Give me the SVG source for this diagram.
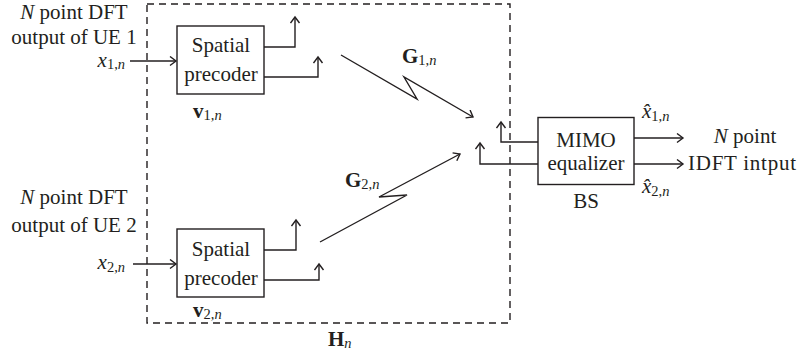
<svg xmlns="http://www.w3.org/2000/svg" width="801" height="358" viewBox="0 0 801 358">
<style>
text{font-family:"Liberation Serif","Times New Roman",serif;font-size:21px;fill:#231f20}
.it{font-style:italic}
.b{font-weight:bold}
.sub{font-size:14.5px}
.c{text-anchor:middle}
.box{fill:#fff;stroke:#231f20;stroke-width:1.4}
.ar{fill:none;stroke:#231f20;stroke-width:1.4;marker-end:url(#ah)}
.dash{fill:none;stroke:#231f20;stroke-width:1.4;stroke-dasharray:7 5}
</style>
<defs>
<marker id="ah" markerUnits="userSpaceOnUse" markerWidth="12" markerHeight="12" refX="7" refY="5" orient="auto" viewBox="0 0 12 12">
<path d="M1,0.5 L7,5 L1,9.5" fill="none" stroke="#231f20" stroke-width="1.4"/>
</marker>
</defs>
<rect class="dash" x="147" y="4" width="363" height="319"/>
<g id="connectors">
<path class="ar" d="M130,61 H176"/>
<path class="ar" d="M133,264 H176"/>
<path class="ar" d="M264,47 H295 V17"/>
<path class="ar" d="M264,77 H318 V57"/>
<path class="ar" d="M264,250 H296 V220"/>
<path class="ar" d="M264,280 H319 V264"/>
<path class="ar" d="M341,55 L417,99 L404,77 L473,117"/>
<path class="ar" d="M320,242 L407,195 L379,197 L460,154"/>
<path class="ar" d="M538,142 H501 V122"/>
<path class="ar" d="M538,164 H480 V143"/>
<path class="ar" d="M634,138 H683"/>
<path class="ar" d="M634,164 H683"/>
</g>
<g id="ue1">
<text class="c" x="74" y="19"><tspan class="it">N</tspan> point DFT</text>
<text class="c" x="74" y="44">output of UE 1</text>
<text x="125" y="67" text-anchor="end"><tspan class="it">x</tspan><tspan class="sub" dy="2">1,</tspan><tspan class="sub it">n</tspan></text>
</g>
<g id="precoder1">
<rect class="box" x="177" y="26" width="87" height="68"/>
<text class="c" x="221" y="52">Spatial</text>
<text class="c" x="221" y="81">precoder</text>
<text x="193" y="118"><tspan class="b">v</tspan><tspan class="sub" dy="2">1,</tspan><tspan class="sub it">n</tspan></text>
</g>
<g id="ue2">
<text class="c" x="74" y="204"><tspan class="it">N</tspan> point DFT</text>
<text class="c" x="74" y="232">output of UE 2</text>
<text x="125" y="269" text-anchor="end"><tspan class="it">x</tspan><tspan class="sub" dy="3">2,</tspan><tspan class="sub it">n</tspan></text>
</g>
<g id="precoder2">
<rect class="box" x="177" y="229" width="87" height="68"/>
<text class="c" x="221" y="256">Spatial</text>
<text class="c" x="221" y="285">precoder</text>
<text x="193" y="317"><tspan class="b">v</tspan><tspan class="sub" dy="2">2,</tspan><tspan class="sub it">n</tspan></text>
</g>
<g id="channel">
<text x="402" y="63"><tspan class="b">G</tspan><tspan class="sub" dy="2">1,</tspan><tspan class="sub it">n</tspan></text>
<text x="345" y="187"><tspan class="b">G</tspan><tspan class="sub" dy="2">2,</tspan><tspan class="sub it">n</tspan></text>
<text x="328" y="346"><tspan class="b">H</tspan><tspan class="sub it" dy="2">n</tspan></text>
</g>
<g id="bs">
<rect class="box" x="538" y="117.5" width="96" height="67"/>
<text class="c" x="586" y="147">MIMO</text>
<text class="c" x="586" y="170">equalizer</text>
<text class="c" x="586" y="208">BS</text>
<text x="642" y="118"><tspan class="it">x̂</tspan><tspan class="sub" dy="3">1,</tspan><tspan class="sub it">n</tspan></text>
<text x="642" y="193"><tspan class="it">x̂</tspan><tspan class="sub" dy="3">2,</tspan><tspan class="sub it">n</tspan></text>
</g>
<g id="output">
<text class="c" x="745" y="143"><tspan class="it">N</tspan> point</text>
<text class="c" x="742" y="170" textLength="108">IDFT intput</text>
</g>
</svg>
